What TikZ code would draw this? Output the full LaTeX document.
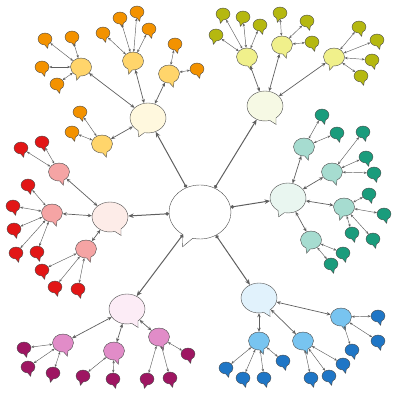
\documentclass[tikz,border=0pt]{standalone}
\usepackage{tikz}
\usetikzlibrary{shapes.callouts}
\usetikzlibrary{arrows.meta}
\usepackage{xcolor}
\definecolor{ColOrA}{RGB}{243,146,0}
\definecolor{ColOrB}{RGB}{255,213,107}
\definecolor{ColOrC}{RGB}{255,248,222}
\definecolor{ColYeA}{RGB}{181,184,16}
\definecolor{ColYeB}{RGB}{240,240,139}
\definecolor{ColYeC}{RGB}{246,249,228}
\definecolor{ColTeA}{RGB}{26,156,124}
\definecolor{ColTeB}{RGB}{166,220,208}
\definecolor{ColTeC}{RGB}{233,246,240}
\definecolor{ColBlA}{RGB}{31,118,198}
\definecolor{ColBlB}{RGB}{120,196,240}
\definecolor{ColBlC}{RGB}{225,242,252}
\definecolor{ColPiA}{RGB}{158,22,98}
\definecolor{ColPiB}{RGB}{225,140,200}
\definecolor{ColPiC}{RGB}{252,236,246}
\definecolor{ColReA}{RGB}{226,22,22}
\definecolor{ColReB}{RGB}{245,164,164}
\definecolor{ColReC}{RGB}{253,236,232}
\definecolor{ColLine}{RGB}{95,95,95}
\tikzstyle{Bubble}=[ellipse callout,draw=black!70,line width=.4pt,inner sep=0pt]
\tikzstyle{Leaf}=[Bubble,minimum width=14pt,minimum height=12pt,callout pointer arc=30,
callout relative pointer={(1pt,-3.5pt)}]
\tikzstyle{LeafL}=[Leaf,callout relative pointer={(-1pt,-3.5pt)}]
\tikzstyle{Mid}=[Bubble,minimum width=21pt,minimum height=18pt,callout pointer arc=25,
callout relative pointer={(1.5pt,-4.5pt)}]
\tikzstyle{MidL}=[Mid,callout relative pointer={(-1.5pt,-4.5pt)}]
\tikzstyle{Hub}=[Bubble,minimum width=36pt,minimum height=30pt,callout pointer arc=22,
callout relative pointer={(3pt,-5pt)}]
\tikzstyle{HubL}=[Hub,callout relative pointer={(-2.5pt,-5pt)}]
\tikzstyle{Core}=[Bubble,fill=white,minimum width=62pt,minimum height=54pt,callout pointer arc=20,
callout relative pointer={(-5pt,-10pt)}]
\tikzstyle{EdgeCore}=[ColLine,line width=1pt,{Circle[length=3.5pt]}-{Stealth[length=5.5pt,width=4.5pt]}]
\tikzstyle{EdgeMid}=[ColLine,line width=.7pt,{Stealth[length=4pt,width=3.5pt]}-{Stealth[length=4pt,width=3.5pt]}]
\tikzstyle{EdgeLeaf}=[ColLine,line width=.45pt,{Stealth[length=3pt,width=2.4pt]}-{Stealth[length=3pt,width=2.4pt]}]
\begin{document}
\begin{tikzpicture}[x=1pt,y=-1pt]
        \useasboundingbox(0,0)rectangle(400,400);
        % centre and hubs
        \node[Core](c)at(200,212){};
        \node[HubL,fill=ColOrC](ho)at(148,118){};
        \node[Hub,fill=ColYeC](hy)at(265,106){};
        \node[HubL,fill=ColTeC](ht)at(288,198){};
        \node[Hub,fill=ColBlC](hb)at(259,298){};
        \node[Hub,fill=ColPiC](hp)at(127,309){};
        \node[Hub,fill=ColReC](hr)at(110,217){};
        % orange
        \node[MidL,fill=ColOrB](o1)at(81,67){};
        \node[MidL,fill=ColOrB](o2)at(133,61){};
        \node[Mid,fill=ColOrB](o3)at(169,74){};
        \node[Mid,fill=ColOrB](o4)at(102,144){};
        \node[Leaf,fill=ColOrA](o1a)at(45,39){};
        \node[Leaf,fill=ColOrA](o1b)at(72,37){};
        \node[Leaf,fill=ColOrA](o1c)at(42,67){};
        \node[Leaf,fill=ColOrA](o1d)at(57,84){};
        \node[Leaf,fill=ColOrA](o2a)at(103,33){};
        \node[Leaf,fill=ColOrA](o2b)at(120,18){};
        \node[Leaf,fill=ColOrA](o2c)at(137,12){};
        \node[Leaf,fill=ColOrA](o2d)at(149,29){};
        \node[Leaf,fill=ColOrA](o3a)at(175,44){};
        \node[Leaf,fill=ColOrA](o3b)at(197,69){};
        \node[Leaf,fill=ColOrA](o4a)at(80,112){};
        \node[Leaf,fill=ColOrA](o4b)at(72,132){};
        % yellow
        \node[Mid,fill=ColYeB](y1)at(247,57){};
        \node[Mid,fill=ColYeB](y2)at(282,45){};
        \node[MidL,fill=ColYeB](y3)at(334,57){};
        \node[LeafL,fill=ColYeA](y1a)at(216,35){};
        \node[LeafL,fill=ColYeA](y1b)at(223,14){};
        \node[LeafL,fill=ColYeA](y1c)at(243,17){};
        \node[Leaf,fill=ColYeA](y1d)at(260,25){};
        \node[LeafL,fill=ColYeA](y2a)at(280,13){};
        \node[Leaf,fill=ColYeA](y2b)at(307,21){};
        \node[Leaf,fill=ColYeA](y2c)at(312,42){};
        \node[Leaf,fill=ColYeA](y3a)at(359,27){};
        \node[Leaf,fill=ColYeA](y3b)at(377,40){};
        \node[Leaf,fill=ColYeA](y3c)at(372,60){};
        \node[Leaf,fill=ColYeA](y3d)at(361,76){};
        % teal
        \node[Mid,fill=ColTeB](t1)at(304,147){};
        \node[Mid,fill=ColTeB](t2)at(332,172){};
        \node[MidL,fill=ColTeB](t3)at(344,207){};
        \node[MidL,fill=ColTeB](t4)at(311,240){};
        \node[Leaf,fill=ColTeA](t1a)at(322,115){};
        \node[Leaf,fill=ColTeA](t1b)at(337,133){};
        \node[Leaf,fill=ColTeA](t2a)at(363,132){};
        \node[Leaf,fill=ColTeA](t2b)at(366,157){};
        \node[Leaf,fill=ColTeA](t2c)at(374,173){};
        \node[Leaf,fill=ColTeA](t3a)at(369,194){};
        \node[Leaf,fill=ColTeA](t3b)at(384,214){};
        \node[Leaf,fill=ColTeA](t3c)at(352,233){};
        \node[Leaf,fill=ColTeA](t3d)at(373,239){};
        \node[Leaf,fill=ColTeA](t4a)at(343,253){};
        \node[Leaf,fill=ColTeA](t4b)at(331,264){};
        % blue
        \node[Mid,fill=ColBlB](b1)at(259,341){};
        \node[Mid,fill=ColBlB](b2)at(303,341){};
        \node[Mid,fill=ColBlB](b3)at(341,317){};
        \node[Leaf,fill=ColBlA](b1a)at(226,368){};
        \node[Leaf,fill=ColBlA](b1b)at(243,378){};
        \node[Leaf,fill=ColBlA](b1c)at(264,378){};
        \node[Leaf,fill=ColBlA](b1d)at(283,361){};
        \node[Leaf,fill=ColBlA](b2a)at(311,378){};
        \node[Leaf,fill=ColBlA](b2b)at(329,376){};
        \node[Leaf,fill=ColBlA](b2c)at(343,364){};
        \node[Leaf,fill=ColBlA](b3a)at(378,316){};
        \node[Leaf,fill=ColBlA](b3b)at(378,341){};
        \node[Leaf,fill=ColBlA](b3c)at(352,350){};
        % pink
        \node[Mid,fill=ColPiB](p1)at(63,343){};
        \node[Mid,fill=ColPiB](p2)at(114,351){};
        \node[Mid,fill=ColPiB](p3)at(159,337){};
        \node[Leaf,fill=ColPiA](p1a)at(24,348){};
        \node[Leaf,fill=ColPiA](p1b)at(28,367){};
        \node[LeafL,fill=ColPiA](p1c)at(53,373){};
        \node[LeafL,fill=ColPiA](p2a)at(83,376){};
        \node[Leaf,fill=ColPiA](p2b)at(113,379){};
        \node[LeafL,fill=ColPiA](p3a)at(147,379){};
        \node[Leaf,fill=ColPiA](p3b)at(170,378){};
        \node[Leaf,fill=ColPiA](p3c)at(188,354){};
        % red
        \node[Mid,fill=ColReB](r1)at(59,172){};
        \node[Mid,fill=ColReB](r2)at(52,213){};
        \node[Mid,fill=ColReB](r3)at(86,249){};
        \node[Leaf,fill=ColReA](r1a)at(21,148){};
        \node[Leaf,fill=ColReA](r1b)at(42,142){};
        \node[Leaf,fill=ColReA](r2a)at(28,185){};
        \node[Leaf,fill=ColReA](r2b)at(13,206){};
        \node[Leaf,fill=ColReA](r2c)at(14,229){};
        \node[Leaf,fill=ColReA](r2d)at(16,253){};
        \node[Leaf,fill=ColReA](r2e)at(37,252){};
        \node[Leaf,fill=ColReA](r3a)at(42,270){};
        \node[Leaf,fill=ColReA](r3b)at(55,287){};
        \node[Leaf,fill=ColReA](r3c)at(78,289){};
        % links
        \draw[EdgeCore](c)--(ho);
        \draw[EdgeCore](c)--(hy);
        \draw[EdgeCore](c)--(ht);
        \draw[EdgeCore](c)--(hb);
        \draw[EdgeCore](c)--(hp);
        \draw[EdgeCore](c)--(hr);
        \draw[EdgeMid](ho)--(o1);
        \draw[EdgeMid](ho)--(o2);
        \draw[EdgeMid](ho)--(o3);
        \draw[EdgeMid](ho)--(o4);
        \draw[EdgeMid](hy)--(y1);
        \draw[EdgeMid](hy)--(y2);
        \draw[EdgeMid](hy)--(y3);
        \draw[EdgeMid](ht)--(t1);
        \draw[EdgeMid](ht)--(t2);
        \draw[EdgeMid](ht)--(t3);
        \draw[EdgeMid](ht)--(t4);
        \draw[EdgeMid](hb)--(b1);
        \draw[EdgeMid](hb)--(b2);
        \draw[EdgeMid](hb)--(b3);
        \draw[EdgeMid](hp)--(p1);
        \draw[EdgeMid](hp)--(p2);
        \draw[EdgeMid](hp)--(p3);
        \draw[EdgeMid](hr)--(r1);
        \draw[EdgeMid](hr)--(r2);
        \draw[EdgeMid](hr)--(r3);
        \draw[EdgeLeaf](o1)--(o1a);
        \draw[EdgeLeaf](o1)--(o1b);
        \draw[EdgeLeaf](o1)--(o1c);
        \draw[EdgeLeaf](o1)--(o1d);
        \draw[EdgeLeaf](o2)--(o2a);
        \draw[EdgeLeaf](o2)--(o2b);
        \draw[EdgeLeaf](o2)--(o2c);
        \draw[EdgeLeaf](o2)--(o2d);
        \draw[EdgeLeaf](o3)--(o3a);
        \draw[EdgeLeaf](o3)--(o3b);
        \draw[EdgeLeaf](o4)--(o4a);
        \draw[EdgeLeaf](o4)--(o4b);
        \draw[EdgeLeaf](y1)--(y1a);
        \draw[EdgeLeaf](y1)--(y1b);
        \draw[EdgeLeaf](y1)--(y1c);
        \draw[EdgeLeaf](y1)--(y1d);
        \draw[EdgeLeaf](y2)--(y2a);
        \draw[EdgeLeaf](y2)--(y2b);
        \draw[EdgeLeaf](y2)--(y2c);
        \draw[EdgeLeaf](y3)--(y3a);
        \draw[EdgeLeaf](y3)--(y3b);
        \draw[EdgeLeaf](y3)--(y3c);
        \draw[EdgeLeaf](y3)--(y3d);
        \draw[EdgeLeaf](t1)--(t1a);
        \draw[EdgeLeaf](t1)--(t1b);
        \draw[EdgeLeaf](t2)--(t2a);
        \draw[EdgeLeaf](t2)--(t2b);
        \draw[EdgeLeaf](t2)--(t2c);
        \draw[EdgeLeaf](t3)--(t3a);
        \draw[EdgeLeaf](t3)--(t3b);
        \draw[EdgeLeaf](t3)--(t3c);
        \draw[EdgeLeaf](t3)--(t3d);
        \draw[EdgeLeaf](t4)--(t4a);
        \draw[EdgeLeaf](t4)--(t4b);
        \draw[EdgeLeaf](b1)--(b1a);
        \draw[EdgeLeaf](b1)--(b1b);
        \draw[EdgeLeaf](b1)--(b1c);
        \draw[EdgeLeaf](b1)--(b1d);
        \draw[EdgeLeaf](b2)--(b2a);
        \draw[EdgeLeaf](b2)--(b2b);
        \draw[EdgeLeaf](b2)--(b2c);
        \draw[EdgeLeaf](b3)--(b3a);
        \draw[EdgeLeaf](b3)--(b3b);
        \draw[EdgeLeaf](b3)--(b3c);
        \draw[EdgeLeaf](p1)--(p1a);
        \draw[EdgeLeaf](p1)--(p1b);
        \draw[EdgeLeaf](p1)--(p1c);
        \draw[EdgeLeaf](p2)--(p2a);
        \draw[EdgeLeaf](p2)--(p2b);
        \draw[EdgeLeaf](p3)--(p3a);
        \draw[EdgeLeaf](p3)--(p3b);
        \draw[EdgeLeaf](p3)--(p3c);
        \draw[EdgeLeaf](r1)--(r1a);
        \draw[EdgeLeaf](r1)--(r1b);
        \draw[EdgeLeaf](r2)--(r2a);
        \draw[EdgeLeaf](r2)--(r2b);
        \draw[EdgeLeaf](r2)--(r2c);
        \draw[EdgeLeaf](r2)--(r2d);
        \draw[EdgeLeaf](r2)--(r2e);
        \draw[EdgeLeaf](r3)--(r3a);
        \draw[EdgeLeaf](r3)--(r3b);
        \draw[EdgeLeaf](r3)--(r3c);
    \end{tikzpicture}
\end{document}
